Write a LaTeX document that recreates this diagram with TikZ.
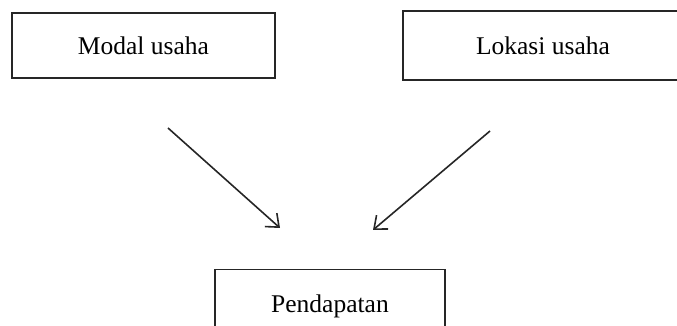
\documentclass[tikz,border=0pt]{standalone}
\usepackage{fontspec}
\setmainfont{Liberation Serif}
\usetikzlibrary{arrows.meta}
\begin{document}
\begin{tikzpicture}[x=1pt,y=1pt,
  box/.style={draw=black!85, line width=1.5pt, inner sep=0pt, font=\fontsize{25.5}{30}\selectfont},
  link/.style={draw=black!85, line width=1.6pt, -{Straight Barb[length=11pt,width=18pt,line width=1.6pt]}}]
\useasboundingbox (0,0) rectangle (677,326);
\node[box, minimum width=263pt, minimum height=65pt] (modal) at (143.4,280.6) {Modal usaha};
\node[box, minimum width=280pt, minimum height=69pt] (lokasi) at (543,280.5) {Lokasi usaha};
\node[box, minimum width=230pt, minimum height=80pt, anchor=north] (pend) at (330,57) {\raisebox{13pt}{Pendapatan}};
\coordinate (a1) at (168,198);
\coordinate (a2) at (280,98);
\coordinate (b1) at (490,195);
\coordinate (b2) at (373,96);
\draw[link] (a1) -- (a2);
\draw[link] (b1) -- (b2);
\end{tikzpicture}
\end{document}
